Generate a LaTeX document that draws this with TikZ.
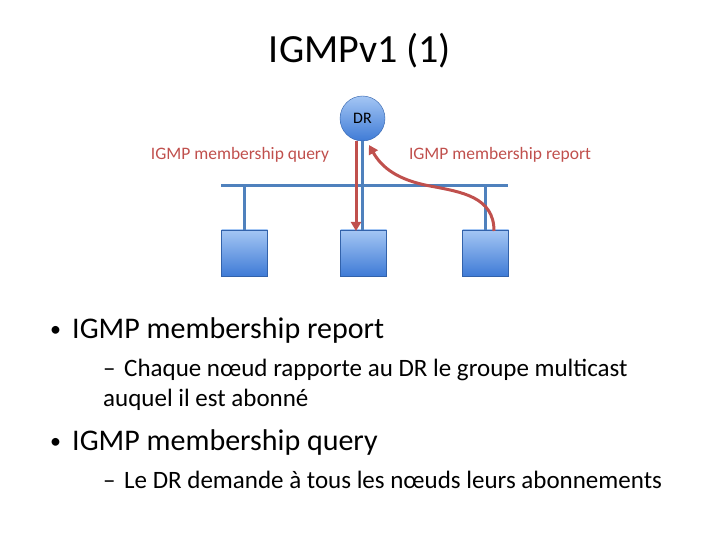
\documentclass[tikz,border=0pt]{standalone}
\usepackage{fontspec}
\setmainfont{Carlito}
\usetikzlibrary{arrows.meta}
\definecolor{redc}{HTML}{C0504D}
\definecolor{bluel}{HTML}{4F81BD}
\definecolor{boxtop}{HTML}{A4C6F4}
\definecolor{boxbot}{HTML}{3F7BD6}
\tikzset{
  host/.style={rectangle, minimum width=46pt, minimum height=46pt, inner sep=0pt, top color=boxtop, bottom color=boxbot, draw=boxbot!80!black, line width=0.4pt},
  wire/.style={draw=bluel, line width=3pt},
  msg/.style={draw=redc, line width=3pt, -{Triangle[length=9pt,width=10pt]}},
  lbl/.style={text=redc, font=\fontsize{17.5}{20}\selectfont, inner sep=0pt},
  bul/.style={anchor=base west, inner sep=0pt, font=\fontsize{30}{36}\selectfont},
  sub/.style={anchor=base west, inner sep=0pt, font=\fontsize{25}{30}\selectfont}
}
\begin{document}
\begin{tikzpicture}[x=1pt,y=-1pt]
\useasboundingbox (0,0) rectangle (720,540);
% title
\node[anchor=base, inner sep=0pt, font=\fontsize{40}{48}\selectfont] (title) at (360,63) {IGMPv1 (1)};
% network
\coordinate (busL) at (221,185.5);
\coordinate (busR) at (508,185.5);
\node[host] (h1) at (244.5,253) {};
\node[host] (h2) at (363.5,253) {};
\node[host] (h3) at (485.5,253) {};
\node[circle, minimum size=45pt, inner sep=0pt, top color=boxtop, bottom color=boxbot, draw=boxbot!80!black, line width=0.4pt, font=\fontsize{16}{18}\selectfont] (dr) at (362.5,118.5) {DR};
\draw[wire] (busL) -- (busR);
\draw[wire] (244.5,185.5) -- (h1.north);
\draw[wire] (485.5,185.5) -- (h3.north);
\draw[wire] (362.5,141) -- (362.5,230);
% messages
\draw[msg] (356,141) -- (356,231);
\draw[msg] (494,231) .. controls (494,197) and (462,192) .. (430,186) .. controls (398,180) and (382,168) .. (369,145);
% labels
\node[lbl] (q) at (240,155) {IGMP membership query};
\node[lbl] (r) at (500,155) {IGMP membership report};
% bullets
\node[anchor=base west, inner sep=0pt, font=\fontsize{22}{26}\selectfont] (b1) at (50,336) {•};
\node[bul] (t1) at (72,338) {IGMP membership report};
\node[sub] (d1) at (103,376) {–};
\node[sub] (s1) at (124,376) {Chaque nœud rapporte au DR le groupe multicast};
\node[sub] (s1b) at (103,406) {auquel il est abonné};
\node[anchor=base west, inner sep=0pt, font=\fontsize{22}{26}\selectfont] (b2) at (50,448) {•};
\node[bul] (t2) at (72,450) {IGMP membership query};
\node[sub] (d2) at (103,488) {–};
\node[sub] (s2) at (124,488) {Le DR demande à tous les nœuds leurs abonnements};
\end{tikzpicture}
\end{document}
